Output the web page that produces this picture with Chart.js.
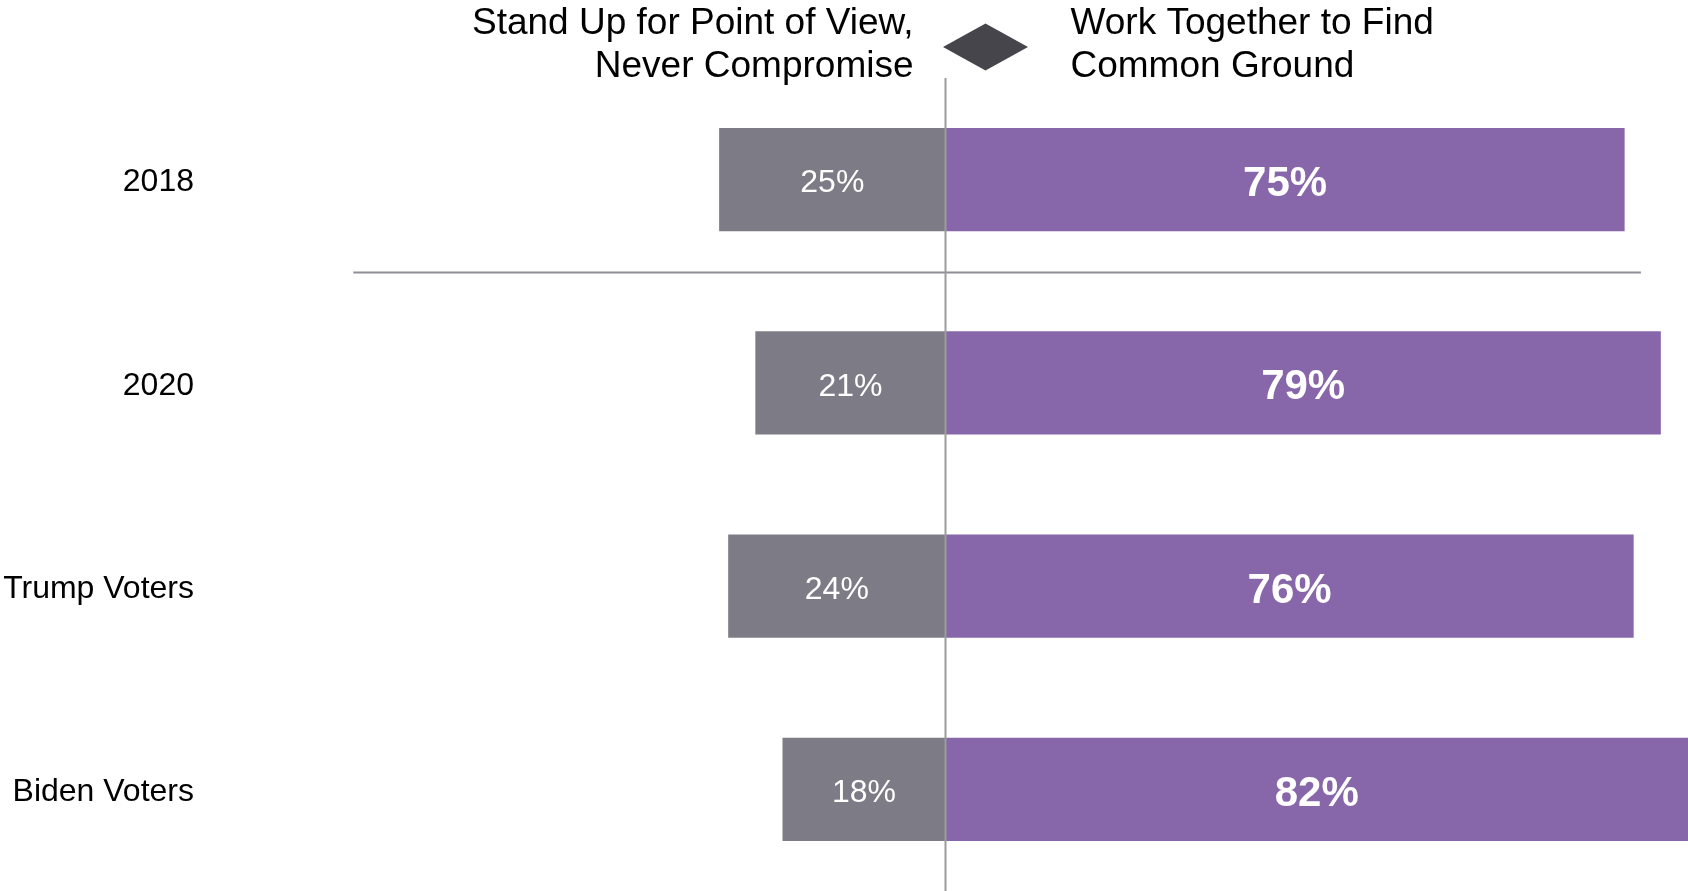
<!DOCTYPE html>
<html><head><meta charset="utf-8">
<script src="https://cdn.jsdelivr.net/npm/chart.js@4"></script>
<style>html,body{margin:0;padding:0;background:#fff;overflow:hidden}</style>
</head><body>
<canvas id="c" width="1688" height="891"></canvas>
<script>
const categories = ['2018', '2020', 'Trump Voters', 'Biden Voters'];
const standUpValues = [25, 21, 24, 18];
const commonGroundValues = [75, 79, 76, 82];
const headerLeft = ['Stand Up for Point of View,', 'Never Compromise'];
const headerRight = ['Work Together to Find', 'Common Ground'];

const FONT = '"Liberation Sans", Arial, Helvetica, sans-serif';
const GREY = '#7d7c86';
const PURPLE = '#8767a9';

const overlay = {
  id: 'overlay',
  afterDatasetsDraw(chart) {
    const ctx = chart.ctx;
    const xs = chart.scales.x, ys = chart.scales.y;
    const area = chart.chartArea;
    const cx = xs.getPixelForValue(0);
    ctx.save();
    // separator between 2018 and 2020
    const sy = Math.round(ys.getPixelForValue(0.455)) + 0.5;
    ctx.strokeStyle = '#8e8e96';
    ctx.lineWidth = 2;
    ctx.beginPath();
    ctx.moveTo(xs.getPixelForValue(-65.4), sy);
    ctx.lineTo(xs.getPixelForValue(76.8), sy);
    ctx.stroke();
    // center line
    ctx.strokeStyle = '#9c9c9c';
    ctx.lineWidth = 2;
    ctx.beginPath();
    ctx.moveTo(cx, area.top);
    ctx.lineTo(cx, area.bottom);
    ctx.stroke();
    // value labels
    ctx.fillStyle = '#ffffff';
    ctx.textAlign = 'center';
    ctx.textBaseline = 'middle';
    chart.data.datasets.forEach((ds, di) => {
      const meta = chart.getDatasetMeta(di);
      meta.data.forEach((el, i) => {
        const v = Math.abs(ds.data[i]);
        ctx.font = di === 0 ? ('32px ' + FONT) : ('bold 42px ' + FONT);
        ctx.fillText(v + '%', (el.x + el.base) / 2, el.y + (di === 0 ? 4 : 5));
      });
    });
    // header
    ctx.fillStyle = '#000';
    ctx.font = '37px ' + FONT;
    ctx.textBaseline = 'middle';
    ctx.textAlign = 'right';
    ctx.fillText(headerLeft[0], cx - 32, 24);
    ctx.fillText(headerLeft[1], cx - 32, 67);
    ctx.textAlign = 'left';
    ctx.fillText(headerRight[0], cx + 125, 24);
    ctx.fillText(headerRight[1], cx + 125, 67);
    // diamond
    const dx = cx + 40, dy = 47;
    ctx.fillStyle = '#46454c';
    ctx.beginPath();
    ctx.moveTo(dx - 42.5, dy);
    ctx.lineTo(dx, dy - 23.5);
    ctx.lineTo(dx + 42.5, dy);
    ctx.lineTo(dx, dy + 23.5);
    ctx.closePath();
    ctx.fill();
    ctx.restore();
  }
};

new Chart(document.getElementById('c'), {
  type: 'bar',
  data: {
    labels: categories,
    datasets: [
      { label: headerLeft.join(' '), data: standUpValues.map(v => -v), backgroundColor: GREY, borderWidth: 0 },
      { label: headerRight.join(' '), data: commonGroundValues, backgroundColor: PURPLE, borderWidth: 0 }
    ]
  },
  options: {
    indexAxis: 'y',
    responsive: false,
    animation: false,
    devicePixelRatio: 1,
    barPercentage: 0.507,
    categoryPercentage: 1,
    layout: { padding: { top: 78, left: 0, right: 0, bottom: 0 } },
    plugins: { legend: { display: false }, tooltip: { enabled: false } },
    scales: {
      x: { stacked: true, min: -82, max: 82, display: false },
      y: {
        stacked: true,
        grid: { display: false, drawTicks: false },
        border: { display: false },
        ticks: { color: '#000', font: { size: 32, family: FONT }, padding: 9, labelOffset: 3 },
        afterFit(s) { s.width = 203; s.paddingTop = 0; s.paddingBottom = 0; }
      }
    }
  },
  plugins: [overlay]
});
</script>
</body></html>
